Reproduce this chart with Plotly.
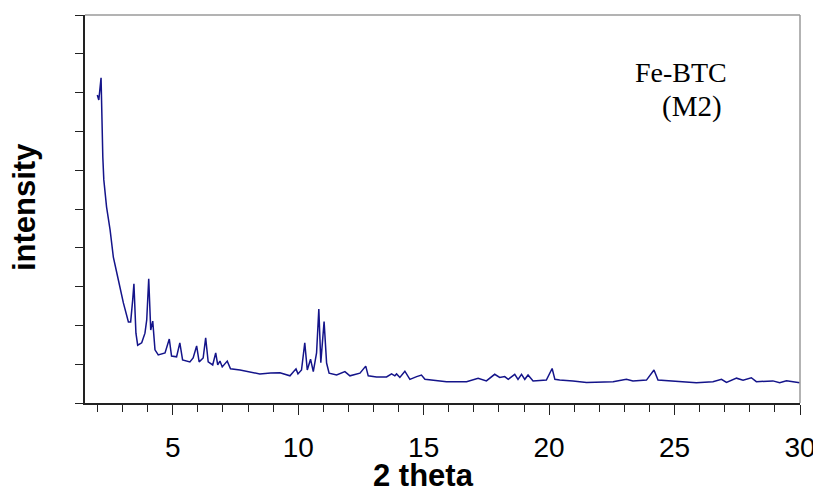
import plotly.graph_objects as go

two_theta = [1.99, 2.05, 2.14, 2.18, 2.21, 2.25, 2.36, 2.50, 2.63, 2.83, 3.03, 3.23, 3.32, 3.40, 3.45,
             3.53, 3.60, 3.76, 3.89, 3.96, 4.04, 4.12, 4.20, 4.29, 4.42, 4.69, 4.86, 4.95, 5.15, 5.28,
             5.39, 5.68, 5.81, 5.95, 6.05, 6.21, 6.31, 6.41, 6.59, 6.71, 6.79, 6.88, 6.97, 7.17, 7.30,
             7.68, 8.07, 8.47, 8.90, 9.27, 9.67, 9.91, 9.99, 10.13, 10.26, 10.36, 10.49, 10.60, 10.73,
             10.82, 10.90, 11.03, 11.13, 11.23, 11.53, 11.86, 12.06, 12.46, 12.69, 12.79, 13.12, 13.52,
             13.72, 13.85, 13.92, 14.05, 14.25, 14.45, 14.72, 14.91, 15.05, 15.91, 16.71, 17.17, 17.50,
             17.83, 18.03, 18.23, 18.37, 18.63, 18.76, 18.90, 19.03, 19.16, 19.36, 19.89, 20.12, 20.23,
             20.42, 20.95, 21.49, 22.55, 23.08, 23.34, 23.88, 24.18, 24.34, 24.81, 25.87, 26.53, 26.87,
             27.07, 27.47, 27.73, 28.06, 28.26, 28.92, 29.19, 29.46, 29.99]
intensity = [7.94, 7.81, 8.38, 6.96, 6.34, 5.75, 5.05, 4.46, 3.76, 3.17, 2.58, 2.09, 2.09, 2.65, 3.07,
             1.80, 1.49, 1.55, 1.80, 2.14, 3.20, 1.88, 2.11, 1.37, 1.24, 1.29, 1.65, 1.21, 1.19, 1.55,
             1.11, 1.06, 1.16, 1.47, 1.06, 1.16, 1.68, 1.06, 0.98, 1.29, 0.98, 1.08, 0.93, 1.08, 0.88,
             0.85, 0.80, 0.75, 0.77, 0.78, 0.70, 0.88, 0.75, 0.85, 1.55, 0.85, 1.13, 0.81, 1.29,
             2.42, 1.04, 2.10, 1.03, 0.77, 0.72, 0.81, 0.70, 0.77, 0.95, 0.70, 0.67, 0.67,
             0.75, 0.70, 0.75, 0.66, 0.82, 0.61, 0.68, 0.72, 0.61, 0.55, 0.55, 0.64, 0.57,
             0.74, 0.66, 0.68, 0.61, 0.74, 0.61, 0.74, 0.61, 0.72, 0.57, 0.59, 0.89, 0.61,
             0.59, 0.57, 0.53, 0.55, 0.61, 0.57, 0.59, 0.85, 0.59, 0.57, 0.52, 0.55, 0.61,
             0.53, 0.64, 0.59, 0.65, 0.55, 0.57, 0.52, 0.57, 0.52]

x_range = [1.5, 30]
y_range = [0, 10]
x_tickvals = [5, 10, 15, 20, 25, 30]
x_ticklabels = ["5", "10", "15", "20", "25", "30"]
x_title = "2 theta"
y_title = "intensity"
label_lines = ["Fe-BTC", "(M2)"]

fig = go.Figure()
fig.add_trace(go.Scatter(x=two_theta, y=intensity, mode="lines",
                         line=dict(color="#14148a", width=1.5), showlegend=False))

# the page has an 8px body margin, so the figure is sized/margined to compensate
fig.update_layout(
    width=813, height=480,
    margin=dict(l=77, r=21, t=7, b=85, autoexpand=False),
    paper_bgcolor="white", plot_bgcolor="white",
    font=dict(family="Liberation Sans, Arial", color="black"),
    xaxis=dict(range=x_range, tickmode="array", tickvals=x_tickvals, ticktext=x_ticklabels,
               ticks="outside", ticklen=10, tickwidth=1, tickcolor="#222",
               minor=dict(dtick=1, tick0=0, ticks="outside", ticklen=7, tickwidth=1, tickcolor="#222"),
               showline=True, linecolor="#222", linewidth=1.5, showgrid=False, zeroline=False,
               automargin=False,
               tickfont=dict(size=28, family="Liberation Sans, Arial"), ticklabelstandoff=9),
    yaxis=dict(range=y_range, dtick=1, ticks="outside", ticklen=8, tickwidth=1, tickcolor="#222",
               showticklabels=False, showline=True, linecolor="#222", linewidth=1.5,
               showgrid=False, zeroline=False, automargin=False),
    shapes=[
        dict(type="line", xref="paper", yref="paper", x0=0, x1=1, y0=1, y1=1,
             line=dict(color="#9a9a9a", width=1.5)),
        dict(type="line", xref="paper", yref="paper", x0=1, x1=1, y0=0, y1=1,
             line=dict(color="#9a9a9a", width=1.5)),
    ],
    annotations=[
        dict(text="<b>" + x_title + "</b>", xref="paper", yref="paper", x=0.473, y=-0.188,
             xanchor="center", yanchor="middle", showarrow=False,
             font=dict(size=31, family="Liberation Sans, Arial", color="black")),
        dict(text="<b>" + y_title + "</b>", xref="paper", yref="paper", x=-0.0853, y=0.505,
             xanchor="center", yanchor="middle", textangle=-90, showarrow=False,
             font=dict(size=31, family="Liberation Sans, Arial", color="black")),
        dict(text=label_lines[0], xref="x", yref="y", x=25.25, y=8.53,
             xanchor="center", yanchor="middle", showarrow=False,
             font=dict(size=28, family="Liberation Serif, Times New Roman", color="black")),
        dict(text=label_lines[1], xref="x", yref="y", x=25.68, y=7.63,
             xanchor="center", yanchor="middle", showarrow=False,
             font=dict(size=29, family="Liberation Serif, Times New Roman", color="black")),
    ],
)

fig.write_html("out.html")
